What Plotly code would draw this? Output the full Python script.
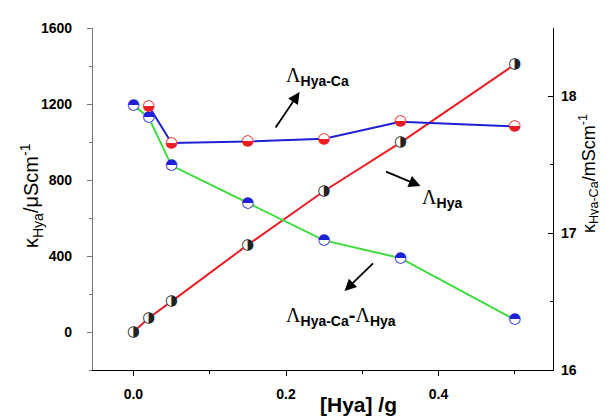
import plotly.graph_objects as go

# ---- data ----
hya_x = [0.0, 0.02, 0.05, 0.15, 0.25, 0.35, 0.5]
kappa_hya = [0, 74, 161, 459, 742, 997, 1408]            # red line, left axis
diff_vals = [1194, 1128, 876, 678, 482, 389, 65]         # green line, left axis

hyaca_x = [0.02, 0.05, 0.15, 0.25, 0.35, 0.5]
kappa_hyaca = [17.93, 17.66, 17.67, 17.69, 17.815, 17.78]  # blue line, right axis

x_ticks = [0.0, 0.2, 0.4]
x_tick_labels = ["0.0", "0.2", "0.4"]
y_ticks = [0, 400, 800, 1200, 1600]
y2_ticks = [16, 17, 18]

RED = "#ee1c24"
BLUE = "#1f1fd6"
GREEN = "#3ddc3d"

fig = go.Figure()

GLYPH_FONT = dict(family="DejaVu Sans", size=15)

def series(x, y, line_color, glyph, glyph_color, yaxis="y"):
    fig.add_trace(go.Scatter(
        x=x, y=y, yaxis=yaxis, mode="lines+markers+text",
        line=dict(color=line_color, width=2),
        marker=dict(symbol="circle", size=11, color="white", line=dict(width=0)),
        text=[glyph] * len(x), textposition="middle center",
        textfont=dict(color=glyph_color, **GLYPH_FONT),
        showlegend=False, hoverinfo="x+y"))

series(hya_x, kappa_hya, RED, "\u25D1", "#222222")
series(hya_x, diff_vals, GREEN, "\u25D3", BLUE)
series(hyaca_x, kappa_hyaca, BLUE, "\u25D2", RED, yaxis="y2")

TICK_FONT = dict(family="Liberation Sans", size=14, color="black", weight="bold")

fig.update_layout(
    width=607, height=419,
    margin=dict(l=85, r=62, t=20, b=57),
    paper_bgcolor="white", plot_bgcolor="white",
    xaxis=dict(range=[-0.053, 0.55], tickvals=x_ticks, ticktext=x_tick_labels,
               showline=True, linecolor="black", linewidth=1.2,
               ticks="outside", ticklen=5, tickcolor="black",
               minor=dict(tickvals=[0.1, 0.3, 0.5], ticks="outside", ticklen=3, tickcolor="black"),
               showgrid=False, zeroline=False,
               tickfont=TICK_FONT, ticklabelstandoff=6),
    yaxis=dict(range=[-200, 1600], tickvals=y_ticks,
               showline=True, linecolor="#777777", linewidth=1.2,
               ticks="outside", ticklen=5, tickcolor="#777777",
               minor=dict(tickvals=[-200, 200, 600, 1000, 1400], ticks="outside", ticklen=3, tickcolor="#777777"),
               showgrid=False, zeroline=False,
               tickfont=TICK_FONT, ticklabelstandoff=12),
    yaxis2=dict(range=[16, 18.5], tickvals=y2_ticks, overlaying="y", side="right",
                showline=True, linecolor="black", linewidth=1.2,
                ticks="inside", ticklen=5, tickcolor="black",
                minor=dict(tickvals=[16.5, 17.5], ticks="inside", ticklen=3, tickcolor="black"),
                showgrid=False, zeroline=False,
                tickfont=TICK_FONT, ticklabelstandoff=4),
)

PW, PH = 460, 342

def paper_x(px):
    return (px - 85) / PW

def paper_y(py):
    return (362 - py) / PH

# axis titles
fig.add_annotation(xref="paper", yref="paper", x=paper_x(350), y=paper_y(396),
                   text="<b>[Hya] /g</b>", showarrow=False, xanchor="center", yanchor="middle",
                   font=dict(family="Liberation Sans", size=21, color="black"))
fig.add_annotation(xref="paper", yref="paper", x=paper_x(23), y=paper_y(188),
                   text="\u03BA<sub>Hya</sub>/\u03BCScm<sup>-1</sup>", textangle=-90,
                   showarrow=False, xanchor="center", yanchor="middle",
                   font=dict(family="Liberation Sans", size=20, color="black"))
fig.add_annotation(xref="paper", yref="paper", x=paper_x(580), y=paper_y(166),
                   text="\u03BA<sub>Hya-Ca</sub>/mScm<sup>-1</sup>", textangle=-90,
                   showarrow=False, xanchor="center", yanchor="middle",
                   font=dict(family="Liberation Sans", size=18, color="black"))

def px2x(px):
    return (px - 125.7) / 763.5

def px2y(py):
    return (324 - py) / 0.19

LAM = '<span style="font-family:Liberation Serif">\u039B</span>'
LBL_FONT = dict(family="Liberation Sans", size=20, color="black")

# labels
fig.add_annotation(x=px2x(276), y=px2y(68), xanchor="left", yanchor="middle", showarrow=False,
                   text=LAM + "<sub><b>Hya-Ca</b></sub>", font=LBL_FONT)
fig.add_annotation(x=px2x(413), y=px2y(190), xanchor="left", yanchor="middle", showarrow=False,
                   text=LAM + "<sub><b>Hya</b></sub>", font=LBL_FONT)
fig.add_annotation(x=px2x(276), y=px2y(308), xanchor="left", yanchor="middle", showarrow=False,
                   text=LAM + "<sub><b>Hya-Ca</b></sub><b>-</b>" + LAM + "<sub><b>Hya</b></sub>", font=LBL_FONT)

# arrows
for (tx, ty, hx, hy) in [(267, 121, 292, 84), (377, 163, 413, 178), (367, 254, 337, 283)]:
    fig.add_annotation(x=px2x(hx), y=px2y(hy), ax=px2x(tx), ay=px2y(ty),
                       xref="x", yref="y", axref="x", ayref="y",
                       text="", showarrow=True, arrowhead=2, arrowsize=1.3,
                       arrowwidth=1.8, arrowcolor="black")

fig.write_html("out.html")
